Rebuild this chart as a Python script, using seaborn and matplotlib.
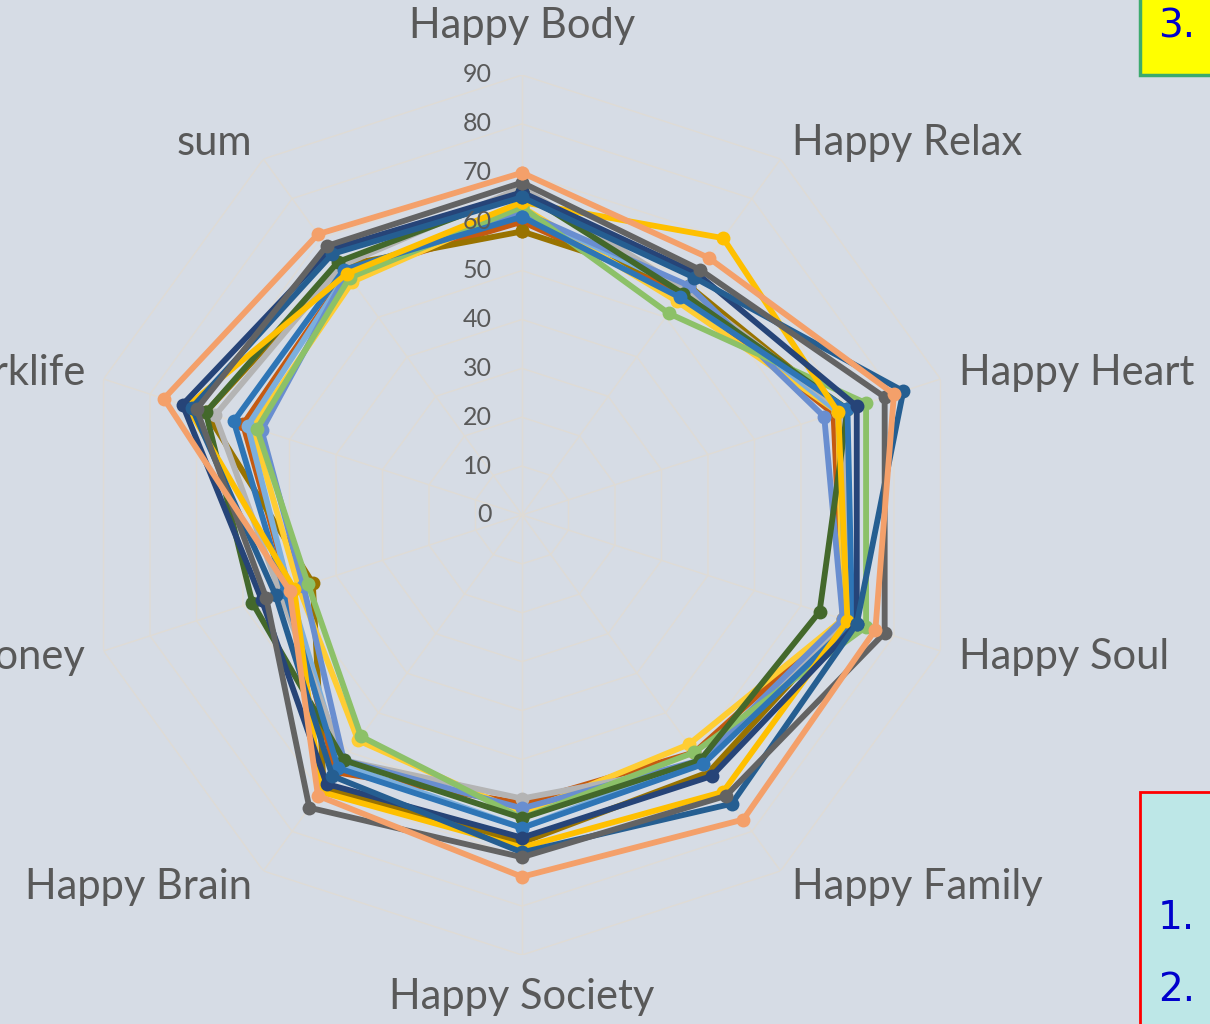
import numpy as np
import pandas as pd
import matplotlib
matplotlib.use("Agg")
import matplotlib.pyplot as plt
import matplotlib.transforms as mtransforms
from matplotlib.patches import Rectangle
import seaborn as sns

sns.set_theme(style="white")
plt.rcParams['font.family'] = ['Lato', 'DejaVu Sans']

categories = ["Happy Body", "Happy Relax", "Happy Heart", "Happy Soul", "Happy Family",
              "Happy Society", "Happy Brain", "Happy Money", "Happy Worklife", "sum"]
ticks = [0, 10, 20, 30, 40, 50, 60, 70, 80, 90]

# series values (Body, Relax, Heart, Soul, Family, Society, Brain, Money, Worklife, sum)
s_brown   = [60, 56, 67, 69, 60, 59, 65, 50, 60, 61]
s_gold    = [58, 58, 69, 70, 65, 67, 69, 45, 68, 63]
s_yellow2 = [63, 54, 68, 69, 58, 61, 57, 48, 58, 59]
s_sky     = [62, 57, 68, 70, 62, 64, 63, 50, 59, 61]
s_lgray   = [67, 57, 69, 70, 63, 58, 62, 52, 66, 63]
s_steel   = [62, 58, 65, 69, 62, 60, 62, 47, 56, 61]
s_lgreen  = [63, 51, 74, 74, 60, 62, 56, 46, 57, 60]
s_dgreen  = [66, 56, 70, 64, 62, 62, 62, 58, 68, 64]
s_blue    = [61, 55, 70, 71, 63, 64, 64, 51, 62, 62]
s_yellow  = [64, 70, 68, 70, 70, 68, 70, 49, 72, 61]
s_navy    = [66, 61, 72, 72, 66, 66, 68, 56, 73, 67]
s_dblue   = [65, 60, 82, 72, 73, 69, 66, 53, 71, 66]
s_dgray   = [68, 62, 78, 78, 71, 70, 74, 55, 70, 68]
s_orange  = [70, 65, 80, 76, 77, 74, 71, 50, 77, 71]

series = {
    "s1": s_brown, "s2": s_gold, "s3": s_yellow2, "s4": s_sky, "s5": s_lgray,
    "s6": s_steel, "s7": s_lgreen, "s8": s_dgreen, "s9": s_blue, "s10": s_yellow,
    "s11": s_navy, "s12": s_dblue, "s13": s_dgray, "s14": s_orange,
}
colors = ["#C55A11", "#997300", "#FFCD33", "#7CAFDD", "#B4B4B4", "#698ED0", "#8CC168",
          "#43682B", "#2E75B6", "#FFC000", "#264478", "#255E91", "#636363", "#F4A06A"]

n = len(categories)
angles = np.linspace(0, 2 * np.pi, n, endpoint=False)
rows = []
for name, vals in series.items():
    for i in range(n + 1):
        rows.append({"series": name, "theta": (angles[i % n] if i < n else 2 * np.pi),
                     "value": vals[i % n], "order": i})
df = pd.DataFrame(rows)

BG = "#D6DCE5"
fig = plt.figure(figsize=(12.10, 10.24), dpi=100, facecolor=BG)
ax = fig.add_axes([82 / 1210, 69 / 1024, 880 / 1210, 880 / 1024], projection="polar")
ax.set_facecolor(BG)
ax.set_theta_zero_location("N")
ax.set_theta_direction(-1)
ax.set_ylim(0, 90)
ax.grid(False)
ax.spines["polar"].set_visible(False)
ax.set_xticks([])
ax.set_yticks([])

grid_c = "#DFDBD5"
closed = np.append(angles, angles[0])
for t in ticks[1:]:
    ax.plot(closed, [t] * (n + 1), color=grid_c, lw=1.0, zorder=1)
for a in angles:
    ax.plot([a, a], [0, 90], color=grid_c, lw=1.0, zorder=1)

sns.lineplot(data=df, x="theta", y="value", hue="series", palette=colors,
             sort=False, estimator=None, units="series", marker="o", markersize=10,
             markeredgewidth=0, linewidth=4.2, legend=False, ax=ax, zorder=3)
ax.set_xlabel("")
ax.set_ylabel("")
ax.set_ylim(0, 90)

# radial tick labels
off = mtransforms.offset_copy(ax.transData, fig=fig, x=-30, y=0, units="dots")
for t in ticks:
    ax.text(0, t, str(t), transform=off, ha="right", va="center",
            fontsize=18, color="#595959", zorder=5)

# category labels
lab_c = "#595959"
fs = 30
for a, c in zip(angles, categories):
    deg = np.degrees(a) % 360
    if deg < 1:
        ax.text(a, 100, c, ha="center", va="center", fontsize=fs, color=lab_c)
    elif abs(deg - 180) < 1:
        ax.text(a, 98.5, c, ha="center", va="center", fontsize=fs, color=lab_c)
    elif deg < 180:
        ax.text(a, 94, c, ha="left", va="center", fontsize=fs, color=lab_c)
    else:
        ax.text(a, 94, c, ha="right", va="center", fontsize=fs, color=lab_c)

# side boxes (partially visible)
fig.patches.append(Rectangle((1140 / 1210, 949 / 1024), 0.2, 0.2, transform=fig.transFigure,
                             facecolor="#FFFF00", edgecolor="#3DAA6E", lw=2.5, zorder=0))
fig.text(1158 / 1210, 1 - 27 / 1024, "3.", color="#0000CC", fontsize=28,
         ha="left", va="center", family=["DejaVu Sans"])
fig.patches.append(Rectangle((1140 / 1210, -0.1), 0.2, (232 / 1024) + 0.1,
                             transform=fig.transFigure, facecolor="#BDE7E7",
                             edgecolor="#FF0000", lw=2, zorder=0))
fig.text(1158 / 1210, 1 - 918 / 1024, "1.", color="#0000CC", fontsize=28,
         ha="left", va="center", family=["DejaVu Sans"])
fig.text(1158 / 1210, 1 - 990 / 1024, "2.", color="#0000CC", fontsize=28,
         ha="left", va="center", family=["DejaVu Sans"])

fig.savefig("out.png", dpi=100, facecolor=BG)
